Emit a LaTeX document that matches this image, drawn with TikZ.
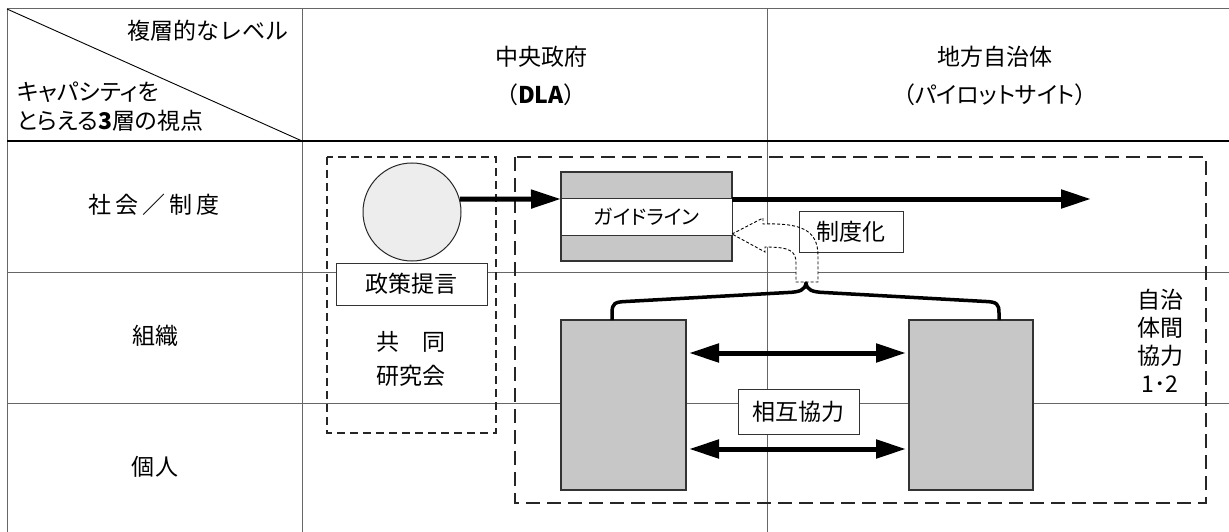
\documentclass[tikz,border=0pt]{standalone}
\usepackage{fontspec}
\setmainfont{Noto Sans CJK JP}
\usetikzlibrary{arrows.meta,calc}
\definecolor{gridc}{gray}{0.4}
\definecolor{boxgray}{gray}{0.78}
\definecolor{circgray}{gray}{0.93}
\tikzset{
  txt/.style={font=\fontsize{23}{28}\selectfont, inner sep=0pt},
  gridline/.style={draw=gridc, line width=1pt},
  graybox/.style={draw=black!80, fill=boxgray, line width=1.2pt, inner sep=0pt, outer sep=0pt},
  labelbox/.style={draw=black!80, fill=white, line width=1pt, inner sep=0pt, outer sep=0pt, font=\fontsize{23}{28}\selectfont},
  smalldash/.style={draw=black!85, line width=1.2pt, dash pattern=on 8pt off 5pt},
  bigdash/.style={draw=black!85, line width=1.2pt, dash pattern=on 14pt off 7pt},
  bigarrow/.style={line width=5pt, -{Triangle[length=30pt,width=18pt]}},
  dblarrow/.style={line width=5pt, {Triangle[length=30pt,width=18pt]}-{Triangle[length=30pt,width=18pt]}},
}
\begin{document}
\begin{tikzpicture}[x=1pt,y=-1pt]
\useasboundingbox (0,0) rectangle (1229,532);
% grid
\draw[gridline] (1229,9) -- (7,9) -- (7,532);
\draw[gridline] (302,9) -- (302,532);
\draw[gridline] (767,9) -- (767,532);
\draw[line width=1.1pt, black] (7,141) -- (1229,141);
\draw[gridline] (7,272) -- (1229,272);
\draw[gridline] (7,403) -- (1229,403);
\draw[line width=0.9pt, black] (7,9) -- (302,141);
% header texts
\node[txt, anchor=east] (hlevel) at (289,31) {複層的なレベル};
\node[txt, anchor=west] (hcap1) at (17,92) {\addfontfeature{RawFeature=+palt}キャパシティを};
\node[txt, anchor=west] (hcap2) at (17,121) {\addfontfeature{RawFeature=+palt}とらえる\textbf{3}層の視点};
\node[txt] (hcg1) at (541,57) {中央政府};
\node[txt] (hcg2) at (541,95) {（\textbf{DLA}）};
\node[txt] (hlg1) at (995,57) {地方自治体};
\node[txt] (hlg2) at (995,95) {\addfontfeature{RawFeature=+palt}（パイロットサイト）};
% row labels
\node[txt] (rsoc) at (154,205) {社\hspace{4pt}会\hspace{4pt}／\hspace{4pt}制\hspace{4pt}度};
\node[txt] (rorg) at (155,336) {組織};
\node[txt] (rind) at (155,467) {個\hspace{2pt}人};
% dashed frames
\draw[smalldash] (327,157) rectangle (496,433);
\draw[bigdash] (515,157) rectangle (1206,503);
% circle and policy proposal
\node[circle, draw=black!85, fill=circgray, line width=1pt, minimum size=98pt, inner sep=0pt] (circ) at (412,212) {};
\node[labelbox, minimum width=151pt, minimum height=42pt] (policy) at (411.5,284) {政策提言};
\node[txt] (kyodo1) at (411,342) {共\hspace{1em}同};
\node[txt] (kyodo2) at (411,376) {研究会};
% guideline
\node[graybox, minimum width=171pt, minimum height=89pt] (gl) at (646.5,216.5) {};
\node[labelbox, minimum width=171pt, minimum height=37pt, font=\fontsize{20}{24}\selectfont] (glband) at (646.5,216.5) {\addfontfeature{RawFeature=+palt}ガイドライン};
\coordinate (arrowy) at (0,199);
\coordinate (glend) at (1091,199);
\draw[bigarrow] (circ.15) -- (gl.west |- arrowy);
\draw[bigarrow] (gl.east |- arrowy) -- (glend);
% hollow dashed arrow (fill)
\fill[white] (732,234) -- (763,218) -- (763,224) .. controls (800,223) and (818,229) .. (818,256) -- (818,282) -- (796,282) -- (796,263) .. controls (796,251) and (790,247) .. (765,247) -- (765,252) -- cycle;
\node[labelbox, minimum width=104pt, minimum height=41pt] (seido) at (851,231.5) {制度化};
\draw[black, line width=0.9pt, dash pattern=on 3pt off 2pt] (732,234) -- (763,218) -- (763,224) .. controls (800,223) and (818,229) .. (818,256) -- (818,282) -- (796,282) -- (796,263) .. controls (796,251) and (790,247) .. (765,247) -- (765,252) -- cycle;
% organisation boxes
\node[graybox, minimum width=125pt, minimum height=170pt] (lbox) at (623.5,405) {};
\node[graybox, minimum width=124pt, minimum height=170pt] (rbox) at (971,405) {};
% brace
\draw[line width=3.5pt, line join=round] ($(lbox.north west)+(51,0)$) -- (612,313) .. controls (612,303) and (615,302) .. (626,301.5) -- (788,292.5) .. controls (800,292) and (805,290) .. (806,283) .. controls (807,290) and (812,292) .. (824,292.5) -- (986,301.5) .. controls (997,302) and (999,304) .. (999,313) -- ($(rbox.north west)+(90,0)$);
% mutual cooperation arrows
\draw[dblarrow] ($(lbox.east)+(3,-52)$) -- ($(rbox.west)+(-3,-52)$);
\draw[dblarrow] ($(lbox.east)+(3,44)$) -- ($(rbox.west)+(-3,44)$);
\node[labelbox, minimum width=121pt, minimum height=45pt] (mutual) at (798.5,411.5) {相互協力};
% right label
\node[txt, align=center] (jichi) at (1160,341) {自治\\体間\\協力\\1･2};
\end{tikzpicture}
\end{document}
